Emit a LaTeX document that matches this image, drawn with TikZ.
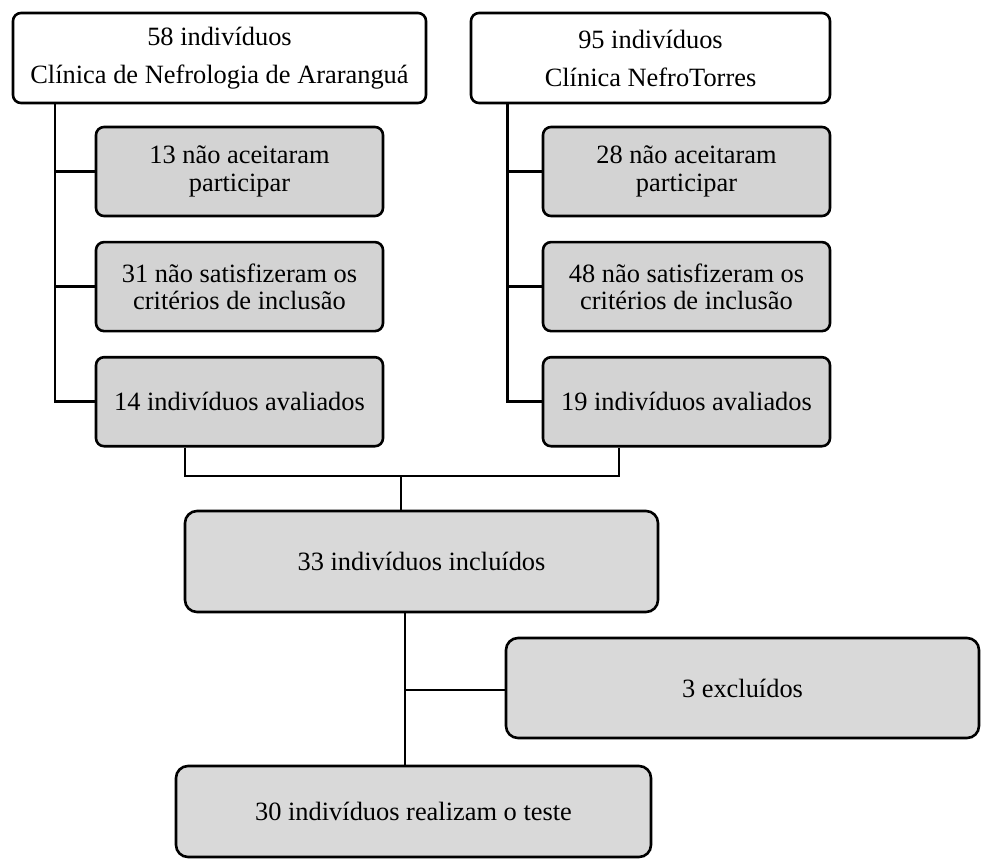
\documentclass[tikz,border=0pt]{standalone}
\usepackage{fontspec}
\setmainfont{Liberation Serif}
\usetikzlibrary{positioning}

\definecolor{boxgray}{RGB}{211,211,211}
\definecolor{lowgray}{RGB}{217,217,217}

\begin{document}
\begin{tikzpicture}[
    x=0.5pt, y=-0.5pt,
    node distance = 11.75pt,
    font=\fontsize{13.2pt}{19pt}\selectfont,
    clinic/.style={rectangle,draw,line width=1.3pt,rounded corners=4pt,fill=white,minimum width=206.5pt,minimum height=45pt,align=center},
    stepbox/.style={rectangle,draw,line width=1.3pt,rounded corners=4pt,fill=boxgray,minimum width=143.5pt,minimum height=44.5pt,align=center,font=\fontsize{13.2pt}{13.6pt}\selectfont},
    bigbox/.style={rectangle,draw,line width=1.3pt,rounded corners=6pt,fill=lowgray,minimum width=236.5pt,minimum height=50pt,align=center},
    link/.style={line width=1.3pt},
    thinlink/.style={line width=0.8pt}
]
\useasboundingbox (0,0) rectangle (981,859);

% Clinics
\node[clinic] (clinicA) at (219.5,58) {58 indivíduos\\Clínica de Nefrologia de Araranguá};
\node[clinic, minimum width=179.5pt] (clinicB) at (650.5,58) {95 indivíduos\\Clínica NefroTorres};

% Left clinic steps
\node[stepbox] (lrefuse) at (239.5,171.5) {13 não aceitaram\\participar};
\node[stepbox, below=of lrefuse] (lcrit) {31 não satisfizeram os\\critérios de inclusão};
\node[stepbox, below=of lcrit] (leval) {14 indivíduos avaliados};

% Right clinic steps
\node[stepbox] (rrefuse) at (686.5,171.5) {28 não aceitaram\\participar};
\node[stepbox, below=of rrefuse] (rcrit) {48 não satisfizeram os\\critérios de inclusão};
\node[stepbox, below=of rcrit] (reval) {19 indivíduos avaliados};

% Final groups
\node[bigbox, minimum height=50.5pt] (incl) at (421.5,561.5) {33 indivíduos incluídos};
\node[bigbox] (excl) at (742.5,688) {3 excluídos};
\node[bigbox, minimum width=237.5pt, minimum height=45.5pt] (test) at (413.5,811.5) {30 indivíduos realizam o teste};

% Helper points
\coordinate (lspine) at (55,0);
\coordinate (rspine) at (507.5,0);
\coordinate (jl) at (185,476);
\coordinate (jr) at (619,476);
\coordinate (join) at (401,476);
\coordinate (split) at (405,690);

% Connections
\draw[link] (clinicA.south -| lspine) |- (leval.west);
\draw[link] (clinicA.south -| lspine) |- (lrefuse.west);
\draw[link] (clinicA.south -| lspine) |- (lcrit.west);
\draw[link] (clinicB.south -| rspine) |- (reval.west);
\draw[link] (clinicB.south -| rspine) |- (rrefuse.west);
\draw[link] (clinicB.south -| rspine) |- (rcrit.west);
\draw[thinlink] (leval.south -| jl) -- (jl) -- (jr) -- (reval.south -| jr);
\draw[thinlink] (join) -- (incl.north -| join);
\draw[thinlink] (incl.south -| split) -- (test.north -| split);
\draw[thinlink] (split) -- (split -| excl.west);

\end{tikzpicture}
\end{document}
